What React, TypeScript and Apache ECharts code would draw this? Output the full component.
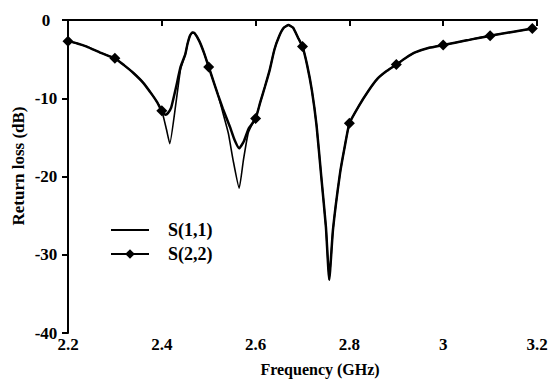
import React, { useEffect, useRef } from "react";
import * as echarts from "echarts";

// Frequency (GHz) and return loss (dB)
const s11Freq = [2.2, 2.22, 2.24, 2.27, 2.3, 2.32, 2.34, 2.36, 2.38, 2.39, 2.4, 2.41, 2.417, 2.43, 2.44, 2.45, 2.455, 2.46, 2.465, 2.47, 2.48, 2.49, 2.5, 2.51, 2.52, 2.53, 2.542, 2.552, 2.565, 2.574, 2.584, 2.592, 2.6, 2.61, 2.62, 2.63, 2.64, 2.65, 2.66, 2.67, 2.68, 2.69, 2.7, 2.71, 2.72, 2.73, 2.74, 2.75, 2.757, 2.765, 2.78, 2.79, 2.8, 2.82, 2.84, 2.86, 2.88, 2.9, 2.92, 2.94, 2.97, 3.0, 3.05, 3.1, 3.19];
const s11Loss = [-2.7, -3.0, -3.4, -4.2, -4.9, -5.8, -6.8, -8.0, -9.6, -10.5, -11.6, -14.0, -15.8, -10.7, -6.3, -4.4, -3.0, -2.0, -1.6, -1.7, -2.7, -4.2, -6.0, -7.8, -9.6, -11.8, -14.5, -17.9, -21.5, -17.9, -14.5, -13.4, -12.6, -10.5, -8.5, -6.4, -3.8, -2.1, -1.0, -0.65, -1.0, -2.2, -3.4, -5.8, -9.0, -13.5, -20.0, -26.5, -33.2, -26.8, -19.6, -16.2, -13.2, -11.0, -9.1, -7.5, -6.5, -5.7, -4.85, -4.15, -3.55, -3.2, -2.6, -2.0, -1.1];

const s22Freq = [2.2, 2.22, 2.24, 2.27, 2.3, 2.32, 2.34, 2.36, 2.38, 2.39, 2.4, 2.408, 2.413, 2.42, 2.43, 2.44, 2.45, 2.455, 2.46, 2.465, 2.47, 2.48, 2.49, 2.5, 2.51, 2.52, 2.53, 2.545, 2.555, 2.565, 2.575, 2.585, 2.6, 2.61, 2.62, 2.63, 2.64, 2.65, 2.66, 2.67, 2.68, 2.69, 2.7, 2.71, 2.72, 2.73, 2.74, 2.75, 2.757, 2.765, 2.78, 2.79, 2.8, 2.82, 2.84, 2.86, 2.88, 2.9, 2.92, 2.94, 2.97, 3.0, 3.05, 3.1, 3.19];
const s22Loss = [-2.7, -3.0, -3.4, -4.2, -4.9, -5.8, -6.8, -8.0, -9.6, -10.5, -11.6, -12.1, -11.9, -11.2, -8.7, -6.0, -4.4, -3.0, -2.0, -1.6, -1.7, -2.7, -4.2, -6.0, -7.8, -9.6, -11.3, -13.6, -15.3, -16.4, -15.5, -13.9, -12.6, -10.5, -8.5, -6.4, -3.8, -2.1, -1.0, -0.65, -1.0, -2.2, -3.4, -5.8, -9.0, -13.5, -20.0, -26.5, -33.2, -26.8, -19.6, -16.2, -13.2, -11.0, -9.1, -7.5, -6.5, -5.7, -4.85, -4.15, -3.55, -3.2, -2.6, -2.0, -1.1];

// S(2,2) marker positions
const s22MarkerFreq = [2.2, 2.3, 2.4, 2.5, 2.6, 2.7, 2.8, 2.9, 3.0, 3.1, 3.19];

const xTicks = { min: 2.2, max: 3.2, interval: 0.2 };
const yTicks = { min: -40, max: 0, interval: 10 };

const seriesNames = ["S(1,1)", "S(2,2)"];
const xTitle = "Frequency (GHz)";
const yTitle = "Return loss (dB)";

const FONT = "Liberation Serif";

export default function App() {
  const ref = useRef<HTMLDivElement>(null);
  useEffect(() => {
    document.body.style.margin = "0";
    if (!ref.current) return;
    const chart = echarts.init(ref.current, undefined, { renderer: "svg" });
    const s11Data = s11Freq.map((f, i) => [f, s11Loss[i]]);
    const s22Data = s22Freq.map((f, i) => {
      const isMarker = s22MarkerFreq.some((m) => Math.abs(m - f) < 1e-6);
      return isMarker
        ? { value: [f, s22Loss[i]] }
        : { value: [f, s22Loss[i]], symbol: "none" };
    });
    const base = { color: "#000", fontSize: 17, fontFamily: FONT, fontWeight: "bold" as const };
    chart.setOption({
      animation: false,
      grid: { left: 68, right: 16, top: 20, bottom: 46 },
      xAxis: {
        type: "value",
        min: xTicks.min,
        max: xTicks.max,
        interval: xTicks.interval,
        axisLine: { lineStyle: { color: "#000", width: 2 } },
        axisTick: { show: true, length: 6, inside: false, lineStyle: { color: "#000", width: 2 } },
        splitLine: { show: false },
        axisLabel: {
          ...base,
          margin: 3,
          formatter: (v: number) => String(Number(v.toFixed(1))),
        },
      },
      yAxis: {
        type: "value",
        min: yTicks.min,
        max: yTicks.max,
        interval: yTicks.interval,
        axisLine: { show: true, lineStyle: { color: "#000", width: 2 } },
        axisTick: { show: true, length: 6, lineStyle: { color: "#000", width: 2 } },
        splitLine: { show: false },
        axisLabel: { ...base, margin: 22, align: "center" },
      },
      legend: {
        orient: "vertical",
        left: 110,
        top: 221,
        padding: 0,
        itemWidth: 38,
        itemHeight: 12,
        itemGap: 6,
        textStyle: { ...base, fontSize: 18, padding: [0, 0, 0, 14] },
        data: [
          { name: seriesNames[0], itemStyle: { opacity: 0 } },
          { name: seriesNames[1] },
        ],
      },
      graphic: [
        {
          type: "text",
          x: 18,
          y: 166,
          rotation: Math.PI / 2,
          style: {
            text: yTitle,
            font: "bold 17px 'Liberation Serif'",
            fill: "#000",
            textAlign: "center",
            textVerticalAlign: "middle",
          },
        },
        {
          type: "text",
          x: 320,
          y: 369,
          style: {
            text: xTitle,
            font: "bold 16px 'Liberation Serif'",
            fill: "#000",
            textAlign: "center",
            textVerticalAlign: "middle",
          },
        },
      ],
      series: [
        {
          name: seriesNames[0],
          type: "line",
          data: s11Data,
          symbol: "none",
          smooth: 0.15,
          lineStyle: { color: "#000", width: 1.6 },
          itemStyle: { color: "#000" },
          z: 2,
        },
        {
          name: seriesNames[1],
          type: "line",
          data: s22Data,
          symbol: "diamond",
          symbolSize: 11,
          showAllSymbol: true,
          smooth: 0.15,
          clip: false,
          lineStyle: { color: "#000", width: 2.5 },
          itemStyle: { color: "#000" },
          z: 3,
        },
      ],
    });
    return () => chart.dispose();
  }, []);
  return <div ref={ref} style={{ width: 553, height: 379 }} />;
}
